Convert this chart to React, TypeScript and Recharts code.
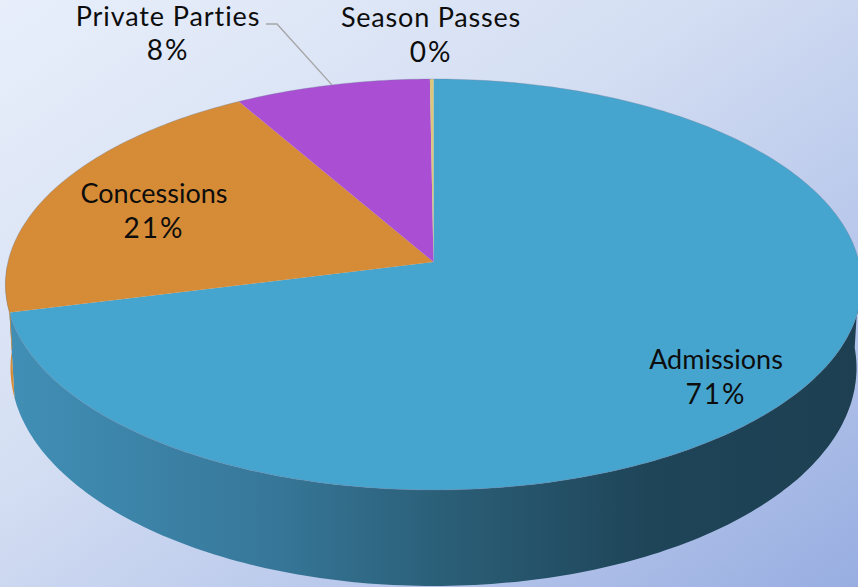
import React from "react";
import { PieChart, Pie } from "recharts";

const categories = ["Admissions", "Concessions", "Private Parties", "Season Passes"];
const shares = [71.1, 20.55, 8.2, 0.15];
const topColors = ["#46a5cf", "#d68c36", "#aa4fd4", "#dcc67a"];

const data = categories.map((name, i) => ({
  name,
  value: shares[i],
  fill: topColors[i],
}));

// label centre x, first baseline, gap to second line and tracking of the name
const labelSpots: Record<string, { x: number; y: number; gap: number; track: number }> = {
  Admissions: { x: 716, y: 369, gap: 35, track: 0 },
  Concessions: { x: 154, y: 203, gap: 35, track: 0 },
  "Private Parties": { x: 168, y: 26, gap: 34, track: 0.9 },
  "Season Passes": { x: 431, y: 27, gap: 35, track: 0.8 },
};

const APEX_X = 433.5;
const APEX_Y = 262;
// perspective of the tilted disc
const K = 0.1095;
const A = 425.5;
const B = 203;
const TOP_CY = 284.5;
const TOP_RX = A / Math.sqrt(1 - K * K);
const TOP_RY = 205.5;
const LOW_CY = 368;
const LOW_RX = 423;
const LOW_RY = 218;

const rad = (d: number) => (d * Math.PI) / 180;

// clock is degrees clockwise from 12 o'clock
const rimPoint = (clock: number) => {
  const u = Math.sin(rad(clock));
  const v = Math.cos(rad(clock));
  const w = 1 + K * v;
  return { x: APEX_X + (A * u) / w, y: APEX_Y - (B * v) / w };
};

const lowerPoint = (p: { x: number; y: number }) => {
  const s = (p.x - APEX_X) / TOP_RX;
  const c = (TOP_CY - p.y) / TOP_RY;
  const n = Math.hypot(s, c) || 1;
  return { x: APEX_X + (LOW_RX * s) / n, y: LOW_CY - (LOW_RY * c) / n };
};

const toPath = (pts: { x: number; y: number }[]) =>
  pts.map((p, i) => `${i ? "L" : "M"}${p.x.toFixed(1)} ${p.y.toFixed(1)}`).join(" ");

const SliceShape = (props: any) => {
  const from = 90 - props.startAngle;
  const to = 90 - props.endAngle;
  const rim: { x: number; y: number }[] = [];
  const steps = Math.max(2, Math.ceil(to - from));
  for (let i = 0; i <= steps; i++) rim.push(rimPoint(from + ((to - from) * i) / steps));

  const front = rim.filter((p) => (TOP_CY - p.y) / TOP_RY < 0.1);
  const wall = [...front, ...front.map(lowerPoint).reverse()];
  const wallFill = props.name === "Admissions" ? "url(#wallShade)" : props.fill;

  return (
    <g>
      {front.length > 1 && <path d={toPath(wall) + " Z"} fill={wallFill} />}
      <path d={`M${APEX_X} ${APEX_Y} ${toPath(rim).replace("M", "L")} Z`} fill={props.fill} />
      <path d={toPath(rim)} fill="none" stroke="#6f7f9a" strokeOpacity={0.45} strokeWidth={0.8} />
    </g>
  );
};

const SliceLabel = (props: any) => {
  const spot = labelSpots[props.name];
  const pct = `${Math.round(props.percent * 100)}%`;
  let leader = null;
  if (props.name === "Private Parties") {
    const end = rimPoint(90 - props.midAngle);
    leader = (
      <path
        d={`M${spot.x + 98} ${spot.y - 2} L${spot.x + 109} ${spot.y - 2} L${end.x} ${end.y}`}
        fill="none"
        stroke="#a6a6a6"
        strokeWidth={1.4}
      />
    );
  }
  return (
    <g>
      {leader}
      <text x={spot.x} y={spot.y} textAnchor="middle" fontFamily="Lato" fontSize={27} fill="#0d0d0d">
        <tspan x={spot.x} letterSpacing={spot.track}>{props.name}</tspan>
        <tspan x={spot.x} dy={spot.gap} fontSize={28} letterSpacing={2}>{pct}</tspan>
      </text>
    </g>
  );
};

export default function App() {
  return (
    <div
      style={{
        position: "absolute",
        left: 0,
        top: 0,
        width: 858,
        height: 587,
        overflow: "hidden",
        background: "linear-gradient(145deg, #e8effb 0%, #d5dff3 40%, #b4c4ea 75%, #98aee1 100%)",
      }}
    >
      <PieChart width={858} height={587} margin={{ top: 0, right: 0, bottom: 0, left: 0 }}>
        <defs>
          <linearGradient id="wallShade" gradientUnits="userSpaceOnUse" x1={10} y1={0} x2={858} y2={0}>
            <stop offset="0" stopColor="#418fb6" />
            <stop offset="0.3" stopColor="#37789a" />
            <stop offset="0.5" stopColor="#2b6079" />
            <stop offset="0.75" stopColor="#1f4559" />
            <stop offset="1" stopColor="#1d3f51" />
          </linearGradient>
        </defs>
        <Pie
          data={data}
          dataKey="value"
          nameKey="name"
          cx={APEX_X}
          cy={APEX_Y}
          outerRadius={200}
          startAngle={90}
          endAngle={-270}
          stroke="none"
          shape={SliceShape}
          label={SliceLabel}
          labelLine={false}
          isAnimationActive={false}
        />
      </PieChart>
    </div>
  );
}
